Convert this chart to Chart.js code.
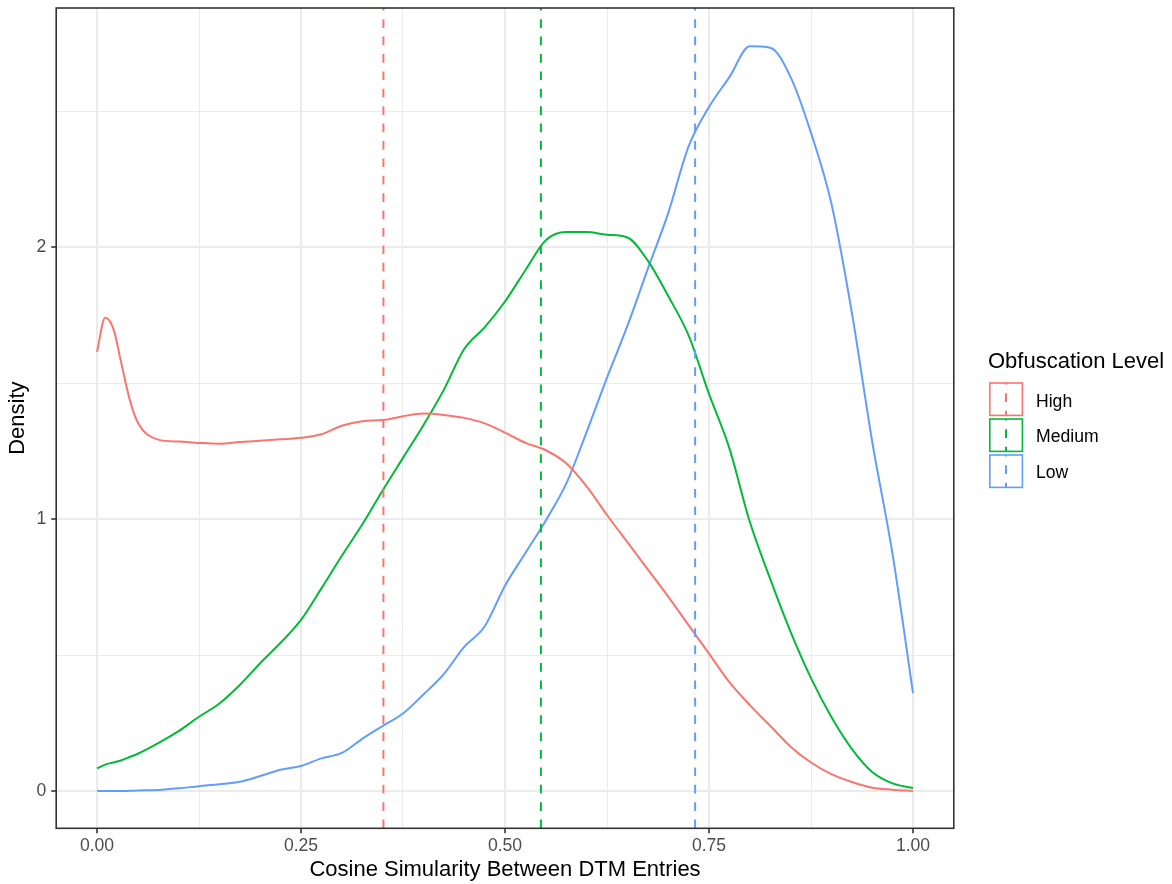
<!DOCTYPE html>
<html>
<head>
<meta charset="utf-8">
<title>Cosine Simularity Density</title>
<script src="https://cdn.jsdelivr.net/npm/chart.js@4/dist/chart.umd.min.js"></script>
<style>
  html, body { margin: 0; padding: 0; background: #ffffff; }
  #wrap { width: 1172px; height: 884px; }
</style>
</head>
<body>
<div id="wrap"><canvas id="chart" width="1172" height="884"></canvas></div>
<script>
// Kernel density estimates of cosine similarity, per obfuscation level
const similarity = [0, 0.01, 0.02, 0.03, 0.04, 0.05, 0.075, 0.1, 0.125, 0.15, 0.175, 0.2, 0.225, 0.25, 0.275,
  0.3, 0.325, 0.35, 0.375, 0.4, 0.425, 0.45, 0.475, 0.5, 0.525, 0.55, 0.575, 0.6, 0.625, 0.65, 0.675, 0.7,
  0.725, 0.75, 0.775, 0.8, 0.825, 0.85, 0.875, 0.9, 0.925, 0.95, 0.975, 1.0];

const densityHigh = [1.615, 1.74, 1.70, 1.57, 1.44, 1.355, 1.292, 1.285, 1.28, 1.277, 1.283, 1.288, 1.293, 1.299,
  1.312, 1.343, 1.36, 1.364, 1.378, 1.388, 1.383, 1.372, 1.352, 1.318, 1.28, 1.253, 1.205, 1.12, 1.015, 0.915,
  0.815, 0.715, 0.61, 0.505, 0.40, 0.316, 0.24, 0.163, 0.105, 0.062, 0.033, 0.012, 0.005, 0.0];

const densityMedium = [0.083, 0.097, 0.105, 0.113, 0.125, 0.137, 0.176, 0.22, 0.273, 0.322, 0.39, 0.47, 0.545,
  0.629, 0.745, 0.865, 0.98, 1.105, 1.225, 1.345, 1.475, 1.625, 1.705, 1.80, 1.915, 2.025, 2.055, 2.055, 2.045,
  2.035, 1.95, 1.82, 1.675, 1.46, 1.26, 0.99, 0.78, 0.585, 0.415, 0.272, 0.155, 0.07, 0.028, 0.011];

const densityLow = [0.001, 0.0, 0.0, 0.0, 0.001, 0.002, 0.004, 0.01, 0.018, 0.025, 0.034, 0.055, 0.078, 0.092,
  0.12, 0.14, 0.192, 0.239, 0.285, 0.355, 0.43, 0.53, 0.605, 0.755, 0.875, 0.995, 1.13, 1.32, 1.52, 1.71, 1.92,
  2.125, 2.37, 2.515, 2.625, 2.738, 2.733, 2.625, 2.42, 2.16, 1.76, 1.285, 0.87, 0.36];

const levelNames = ['High', 'Medium', 'Low'];
const levelColors = ['#F8766D', '#00BA38', '#619CFF'];
const meanSimilarity = [0.351, 0.544, 0.733];

const xMajorTicks = [0, 0.25, 0.5, 0.75, 1];
const xMinorTicks = [0.125, 0.375, 0.625, 0.875];
const yMajorTicks = [0, 1, 2];
const yMinorTicks = [0.5, 1.5, 2.5];
const xRange = [-0.05, 1.05];
const yRange = [-0.137, 2.879];

const legendTitle = 'Obfuscation Level';
const xTitle = 'Cosine Simularity Between DTM Entries';
const yTitle = 'Density';

const FONT = "'Liberation Sans', Arial, Helvetica, sans-serif";
Chart.defaults.font.family = FONT;

const hasTick = (list, v) => list.some(t => Math.abs(t - v) < 1e-9);
const levelSeries = [densityHigh, densityMedium, densityLow];

const densityDatasets = levelNames.map((name, i) => ({
  label: name,
  data: similarity.map((x, j) => ({ x: x, y: levelSeries[i][j] })),
  borderColor: levelColors[i],
  borderWidth: 2,
  pointRadius: 0,
  pointHoverRadius: 0,
  cubicInterpolationMode: 'monotone',
  fill: false,
  order: 1
}));

// dashed vertical line at each group's mean, spanning the whole panel
const meanDatasets = levelNames.map((name, i) => ({
  label: name + ' mean',
  data: [{ x: meanSimilarity[i], y: yRange[0] }, { x: meanSimilarity[i], y: yRange[1] }],
  borderColor: levelColors[i],
  borderWidth: 2,
  borderDash: [8.7, 8.7],
  pointRadius: 0,
  pointHoverRadius: 0,
  fill: false,
  order: 0
}));

// panel outline drawn over the data, like a framed plotting panel
const panelBorder = {
  id: 'panelBorder',
  afterDatasetsDraw(chart) {
    const { ctx, chartArea: a } = chart;
    ctx.save();
    ctx.strokeStyle = '#333333';
    ctx.lineWidth = 1.6;
    ctx.strokeRect(a.left, a.top, a.right - a.left, a.bottom - a.top);
    ctx.restore();
  }
};

// legend: outlined key boxes with a dashed centre line, labels on the right
const keyLegend = {
  id: 'keyLegend',
  afterDraw(chart) {
    const ctx = chart.ctx;
    ctx.save();
    ctx.fillStyle = '#000000';
    ctx.font = '22px ' + FONT;
    ctx.textAlign = 'left';
    ctx.textBaseline = 'alphabetic';
    ctx.fillText(legendTitle, 988, 367.7);
    levelNames.forEach((name, i) => {
      const top = 383 + i * 36;
      ctx.strokeStyle = levelColors[i];
      ctx.lineWidth = 1.6;
      ctx.setLineDash([]);
      ctx.strokeRect(989.8, top, 32.6, 32.4);
      ctx.setLineDash([8.7, 8.7]);
      ctx.lineDashOffset = 4;
      ctx.lineWidth = 2;
      ctx.beginPath();
      ctx.moveTo(1006, top + 32.4);
      ctx.lineTo(1006, top);
      ctx.stroke();
      ctx.setLineDash([]);
      ctx.fillStyle = '#000000';
      ctx.font = '17.6px ' + FONT;
      ctx.fillText(name, 1036, top + 23.6 - i * 0.4);
    });
    ctx.restore();
  }
};

const gridFor = (major) => ({
  color: '#EBEBEB',
  lineWidth: (c) => (c.tick && hasTick(major, c.tick.value) ? 2 : 1),
  tickColor: (c) => (c.tick && hasTick(major, c.tick.value) ? '#333333' : 'rgba(0,0,0,0)'),
  tickWidth: 1.6,
  tickLength: 5,
  drawTicks: true,
  drawOnChartArea: true
});

new Chart(document.getElementById('chart'), {
  type: 'line',
  data: { datasets: [...meanDatasets, ...densityDatasets] },
  options: {
    responsive: false,
    devicePixelRatio: 1,
    animation: false,
    events: [],
    layout: { padding: { top: 8, right: 218.2, left: 0, bottom: 0 } },
    plugins: {
      legend: { display: false },
      tooltip: { enabled: false },
      title: { display: false }
    },
    scales: {
      x: {
        type: 'linear',
        min: xRange[0],
        max: xRange[1],
        afterBuildTicks: (s) => {
          s.ticks = [...xMajorTicks, ...xMinorTicks].sort((a, b) => a - b).map(v => ({ value: v }));
        },
        afterFit: (s) => {
          s.height = 55.7;
          s.paddingLeft = 0;
          s.paddingRight = 0;
        },
        border: { display: false },
        grid: gridFor(xMajorTicks),
        ticks: {
          autoSkip: false,
          maxRotation: 0,
          padding: 2,
          color: '#4D4D4D',
          font: { size: 17.6 },
          callback: (v) => (hasTick(xMajorTicks, v) ? Number(v).toFixed(2) : '')
        },
        title: {
          display: true,
          text: xTitle,
          color: '#000000',
          font: { size: 22 },
          padding: { top: 0, bottom: 1 }
        }
      },
      y: {
        type: 'linear',
        min: yRange[0],
        max: yRange[1],
        afterBuildTicks: (s) => {
          s.ticks = [...yMajorTicks, ...yMinorTicks].sort((a, b) => a - b).map(v => ({ value: v }));
        },
        afterFit: (s) => {
          s.width = 56.2;
          s.paddingTop = 0;
          s.paddingBottom = 0;
        },
        border: { display: false },
        grid: gridFor(yMajorTicks),
        ticks: {
          autoSkip: false,
          padding: 5,
          color: '#4D4D4D',
          font: { size: 17.6 },
          callback: (v) => (hasTick(yMajorTicks, v) ? String(v) : '')
        },
        title: {
          display: true,
          text: yTitle,
          color: '#000000',
          font: { size: 22 },
          padding: { top: 5.2, bottom: 0 }
        }
      }
    }
  },
  plugins: [panelBorder, keyLegend]
});
</script>
</body>
</html>
